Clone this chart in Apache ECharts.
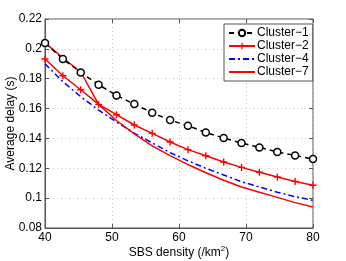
<!DOCTYPE html>
<html><head><meta charset="utf-8">
<script src="https://cdn.jsdelivr.net/npm/echarts@6/dist/echarts.min.js"></script>
<style>html,body{margin:0;padding:0;background:#fff}#c{width:346px;height:261px}</style>
</head><body><div id="c"></div>
<script>
const xValues = [40, 42.67, 45.33, 48, 50.67, 53.33, 56, 58.67, 61.33, 64, 66.67, 69.33, 72, 74.67, 77.33, 80];
const cluster1 = [0.2039, 0.1932, 0.1842, 0.1760, 0.1688, 0.1630, 0.1572, 0.1523, 0.1485, 0.1440, 0.1403, 0.1369, 0.1340, 0.1309, 0.1286, 0.1262];
const cluster2 = [0.1932, 0.1820, 0.1726, 0.1628, 0.1559, 0.1490, 0.1434, 0.1376, 0.1325, 0.1284, 0.1242, 0.1206, 0.1173, 0.1142, 0.1112, 0.1086];
const cluster4 = [0.1900, 0.1780, 0.1680, 0.1590, 0.1510, 0.1435, 0.1370, 0.1305, 0.1250, 0.1200, 0.1155, 0.1110, 0.1075, 0.1040, 0.1010, 0.0985];
const cluster7 = [0.2040, 0.1940, 0.1845, 0.1628, 0.1520, 0.1430, 0.1350, 0.1285, 0.1225, 0.1170, 0.1120, 0.1075, 0.1040, 0.1005, 0.0970, 0.0940];
const seriesNames = ['Cluster−1', 'Cluster−2', 'Cluster−4', 'Cluster−7'];
const xTicks = [40, 50, 60, 70, 80];
const yTicks = [0.08, 0.10, 0.12, 0.14, 0.16, 0.18, 0.20, 0.22];

const pairs = ys => xValues.map((x, i) => [x, ys[i]]);
const font = 'Liberation Sans, Arial, Helvetica, sans-serif';
const axisCol = '#555';
const plus = 'path://M4,0H6V4H10V6H6V10H4V6H0V4H4Z';

const chart = echarts.init(document.getElementById('c'));
chart.setOption({
  animation: false,
  grid: {left: 45, top: 19, width: 268, height: 209, show: true, borderColor: axisCol, borderWidth: 1,
         backgroundColor: '#fff', containLabel: false, outerBoundsMode: 'none'},
  legend: {
    orient: 'vertical', left: 224, top: 24, itemWidth: 26, itemHeight: 8, itemGap: 1,
    backgroundColor: '#fff', borderColor: axisCol, borderWidth: 1, padding: [3, 4, 3, 4],
    textStyle: {fontFamily: font, fontSize: 12, color: '#000', padding: [0, 0, 0, -3]},
    data: [
      {name: seriesNames[0]},
      {name: seriesNames[1]},
      {name: seriesNames[2], itemStyle: {opacity: 0}},
      {name: seriesNames[3], itemStyle: {opacity: 0}}
    ]
  },
  xAxis: [{
    type: 'value', min: 40, max: 80, interval: 10,
    name: 'SBS density (/km{sup|2})', nameLocation: 'middle', nameGap: 17, nameMoveOverlap: false,
    nameTextStyle: {fontFamily: font, fontSize: 12, color: '#000', rich: {sup: {fontSize: 8, verticalAlign: 'top', padding: [0, 0, 8, 0], fontFamily: font}}},
    axisLine: {lineStyle: {color: axisCol}},
    axisTick: {inside: true, length: 4, lineStyle: {color: axisCol}},
    axisLabel: {fontFamily: font, fontSize: 12, color: '#000', margin: 4, customValues: xTicks},
    splitLine: {show: true, lineStyle: {color: '#c8c8c8', type: [1, 3]}}
  }, {
    type: 'value', min: 40, max: 80, interval: 10, position: 'top',
    axisLine: {show: false}, axisTick: {inside: true, length: 4, lineStyle: {color: axisCol}},
    axisLabel: {show: false}, splitLine: {show: false}
  }],
  yAxis: [{
    type: 'value', min: 0.08, max: 0.22, interval: 0.02,
    name: 'Average delay (s)', nameLocation: 'middle', nameGap: 28, nameMoveOverlap: false,
    nameTextStyle: {fontFamily: font, fontSize: 12, color: '#000'},
    axisLine: {show: true, lineStyle: {color: axisCol}},
    axisTick: {show: true, inside: true, length: 4, lineStyle: {color: axisCol}},
    axisLabel: {fontFamily: font, fontSize: 12, color: '#000', margin: 3, formatter: v => String(+v.toFixed(2))},
    splitLine: {show: true, lineStyle: {color: '#c8c8c8', type: [1, 3]}}
  }, {
    type: 'value', min: 0.08, max: 0.22, interval: 0.02, position: 'right',
    axisLine: {show: false}, axisTick: {show: true, inside: true, length: 4, lineStyle: {color: axisCol}},
    axisLabel: {show: false}, splitLine: {show: false}
  }],
  series: [
    {name: seriesNames[0], type: 'line', data: pairs(cluster1), symbol: 'circle', symbolSize: 7,
     lineStyle: {color: '#000', width: 1.5, type: [5, 4]},
     itemStyle: {color: '#fff', borderColor: '#000', borderWidth: 1.5}, z: 4},
    {name: seriesNames[1], type: 'line', data: pairs(cluster2), symbol: plus, symbolSize: 7,
     lineStyle: {color: '#ff0000', width: 1.5}, itemStyle: {color: '#ff0000'}, z: 3},
    {name: seriesNames[2], type: 'line', data: pairs(cluster4), symbol: 'circle', showSymbol: false,
     lineStyle: {color: '#0000ff', width: 1.5, type: [6, 3, 2, 3]}, itemStyle: {color: '#0000ff'}, z: 2},
    {name: seriesNames[3], type: 'line', data: pairs(cluster7), symbol: 'circle', showSymbol: false,
     lineStyle: {color: '#ff0000', width: 1.5}, itemStyle: {color: '#ff0000'}, z: 2}
  ]
});
</script></body></html>
